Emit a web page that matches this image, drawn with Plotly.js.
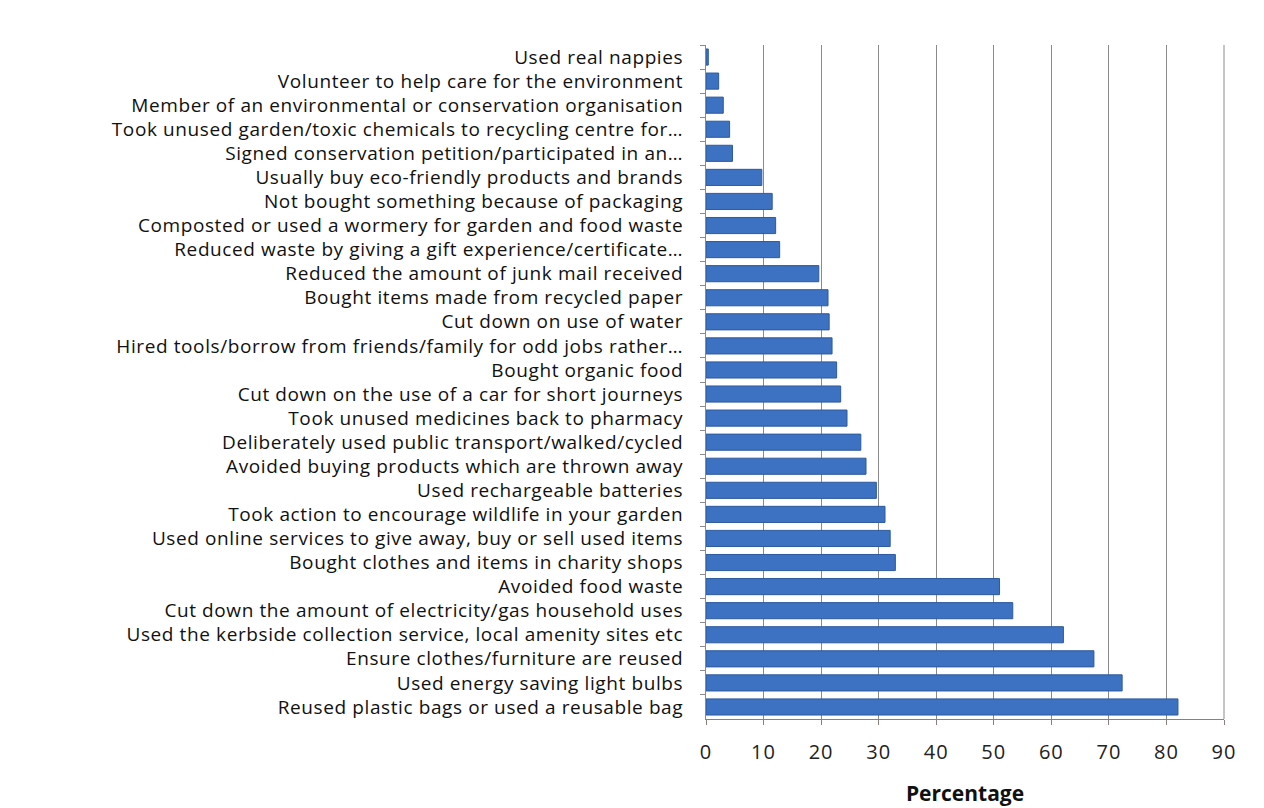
<!DOCTYPE html>
<html>
<head>
<meta charset="utf-8">
<script src="https://cdn.plot.ly/plotly-3.0.1.min.js"></script>
<style>
html,body{margin:0;padding:0;background:#fff;}
#chart{width:1264px;height:808px;}
#chart .yaxislayer-above text{letter-spacing:0.6px;}
#chart .xaxislayer-above text{letter-spacing:1px;}
</style>
</head>
<body>
<div id="chart"></div>
<script>
var categories = [
  "Used real nappies",
  "Volunteer to help care for the environment",
  "Member of an environmental or conservation organisation",
  "Took unused garden/toxic chemicals to recycling centre for…",
  "Signed conservation petition/participated in an…",
  "Usually buy eco-friendly products and brands",
  "Not bought something because of packaging",
  "Composted or used a wormery for garden and food waste",
  "Reduced waste by giving a gift experience/certificate…",
  "Reduced the amount of junk mail received",
  "Bought items made from recycled paper",
  "Cut down on use of water",
  "Hired tools/borrow from friends/family for odd jobs rather…",
  "Bought organic food",
  "Cut down on the use of a car for short journeys",
  "Took unused medicines back to pharmacy",
  "Deliberately used public transport/walked/cycled",
  "Avoided buying products which are thrown away",
  "Used rechargeable batteries",
  "Took action to encourage wildlife in your garden",
  "Used online services to give away, buy or sell used items",
  "Bought clothes and items in charity shops",
  "Avoided food waste",
  "Cut down the amount of electricity/gas household uses",
  "Used the kerbside collection service, local amenity sites etc",
  "Ensure clothes/furniture are reused",
  "Used energy saving light bulbs",
  "Reused plastic bags or used a reusable bag"
];
var percentages = [
  0.4, 2.2, 3.0, 4.1, 4.6, 9.7, 11.5, 12.1, 12.8,
  19.6, 21.2, 21.4, 21.9, 22.7, 23.4, 24.5, 26.9, 27.8,
  29.6, 31.1, 32.0, 32.9, 51.0, 53.3, 62.1, 67.4, 72.3, 82.0
];
var xTicks = [0, 10, 20, 30, 40, 50, 60, 70, 80, 90];

var trace = {
  type: "bar",
  orientation: "h",
  y: categories,
  x: percentages,
  marker: {color: "#3d71c2", line: {color: "#2d5a9e", width: 1}},
  hoverinfo: "x+y"
};

var layout = {
  width: 1264, height: 808,
  margin: {l: 706, r: 40, t: 45, b: 89},
  paper_bgcolor: "#fff",
  plot_bgcolor: "#fff",
  showlegend: false,
  bargap: 0.33,
  font: {family: "'Open Sans', sans-serif", color: "#111"},
  xaxis: {
    range: [0, 90],
    tickvals: xTicks,
    ticktext: xTicks.map(String),
    showgrid: true,
    gridcolor: "#8a8a8a",
    gridwidth: 1,
    zeroline: false,
    showline: true,
    linecolor: "#8a7f7a",
    ticks: "outside",
    ticklen: 5,
    tickcolor: "#8a7f7a",
    ticklabelstandoff: 10,
    tickfont: {size: 20, color: "#222"},
    title: {text: "<b>Percentage</b>", font: {size: 21, color: "#111"}, standoff: 22},
    fixedrange: true
  },
  yaxis: {
    type: "category",
    autorange: "reversed",
    showline: true,
    linecolor: "#8a8a8a",
    ticks: "outside",
    tickson: "boundaries",
    ticklen: 5,
    tickcolor: "#8a8a8a",
    ticklabelstandoff: 18,
    tickfont: {size: 19, color: "#111"},
    showgrid: false,
    fixedrange: true
  },
  shapes: [
    {type: "line", xref: "paper", yref: "paper", x0: 1, x1: 1, y0: 0, y1: 1,
     line: {color: "#8a8a8a", width: 1}}
  ]
};

Plotly.newPlot("chart", [trace], layout, {displayModeBar: false, staticPlot: true});
</script>
</body>
</html>
